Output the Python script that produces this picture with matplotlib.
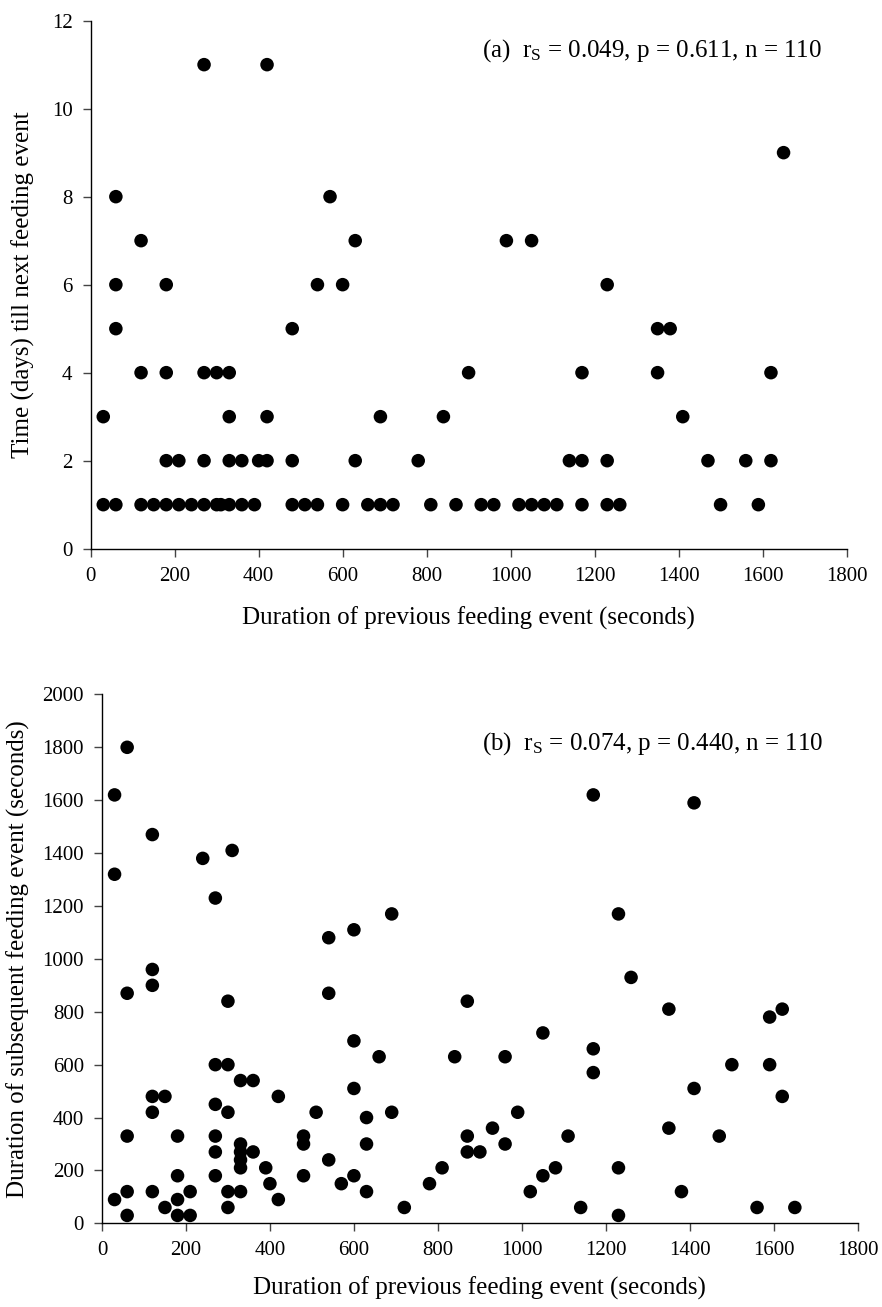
import numpy as np
import matplotlib
matplotlib.use('Agg')
from matplotlib import pyplot as plt

# panel (a): duration of previous event (s) vs days till next event
a_x = [270, 420, 1650,
       60, 570,
       120, 630, 990, 1050,
       60, 180, 540, 600, 1230,
       60, 480, 1350, 1380,
       120, 180, 270, 300, 330, 900, 1170, 1350, 1620,
       30, 330, 420, 690, 840, 1410,
       180, 210, 270, 330, 360, 400, 420, 480, 630, 780, 1140, 1170, 1230, 1470, 1560, 1620,
       30, 60, 120, 150, 180, 210, 240, 270, 300, 310, 330, 360, 390, 480, 510, 540, 600,
       660, 690, 720, 810, 870, 930, 960, 1020, 1050, 1080, 1110, 1170, 1230, 1260, 1500, 1590]
a_y = [11, 11, 9,
       8, 8,
       7, 7, 7, 7,
       6, 6, 6, 6, 6,
       5, 5, 5, 5,
       4, 4, 4, 4, 4, 4, 4, 4, 4,
       3, 3, 3, 3, 3, 3,
       2, 2, 2, 2, 2, 2, 2, 2, 2, 2, 2, 2, 2, 2, 2, 2,
       1, 1, 1, 1, 1, 1, 1, 1, 1, 1, 1, 1, 1, 1, 1, 1, 1,
       1, 1, 1, 1, 1, 1, 1, 1, 1, 1, 1, 1, 1, 1, 1, 1]

# panel (b): duration of previous event vs duration of subsequent event
b_x = [60, 30, 120, 310, 240, 30, 270, 540, 120, 120, 60, 300, 540, 270, 300, 330, 360,
       120, 150, 420, 270, 120, 300, 510, 60, 180, 270, 330, 480, 480, 270, 330, 360,
       330, 540, 330, 390, 180, 270, 480, 400, 570, 60, 120, 210, 300, 330, 30, 180, 420,
       150, 300, 60, 180, 210,
       1170, 690, 600, 870, 1050, 600, 660, 840, 960, 1170, 1170, 600, 630, 690, 990, 930,
       870, 1110, 630, 960, 870, 900, 810, 1080, 600, 780, 1050, 630, 1020, 720, 1140,
       1410, 1230, 1260, 1350, 1620, 1590, 1500, 1590, 1410, 1620, 1350, 1470, 1230, 1380,
       1560, 1650, 1230]
b_y = [1800, 1620, 1470, 1410, 1380, 1320, 1230, 1080, 960, 900, 870, 840, 870, 600, 600, 540, 540,
       480, 480, 480, 450, 420, 420, 420, 330, 330, 330, 300, 330, 300, 270, 270, 270,
       240, 240, 210, 210, 180, 180, 180, 150, 150, 120, 120, 120, 120, 120, 90, 90, 90,
       60, 60, 30, 30, 30,
       1620, 1170, 1110, 840, 720, 690, 630, 630, 630, 660, 570, 510, 400, 420, 420, 360,
       330, 330, 300, 300, 270, 270, 210, 210, 180, 150, 180, 120, 120, 60, 60,
       1590, 1170, 930, 810, 810, 780, 600, 600, 510, 480, 360, 330, 210, 120,
       60, 60, 30]

a_text = '(a)  r$_\\mathrm{S}$ = 0.049, p = 0.611, n = 110'
b_text = '(b)  r$_\\mathrm{S}$ = 0.074, p = 0.440, n = 110'
x_label = 'Duration of previous feeding event (seconds)'
a_ylabel = 'Time (days) till next feeding event'
b_ylabel = 'Duration of subsequent feeding event (seconds)'

plt.rcParams['font.family'] = ['Liberation Serif', 'DejaVu Serif']
plt.rcParams['mathtext.fontset'] = 'custom'
plt.rcParams['mathtext.rm'] = 'Liberation Serif'
plt.rcParams['mathtext.it'] = 'Liberation Serif:italic'


def style(ax, xpad):
    for s in ('top', 'right'):
        ax.spines[s].set_visible(False)
    for s in ('left', 'bottom'):
        ax.spines[s].set_linewidth(1.0)
    ax.tick_params(direction='out', length=5.5, width=1.0, color='#444444',
                   labelsize=15, pad=7.5)
    ax.set_xlim(0, 1800)
    ax.set_xticks(np.arange(0, 1801, 200))
    ax.set_xlabel(x_label, fontsize=18, labelpad=xpad)


fig = plt.figure(figsize=(8.82, 13.07), dpi=100)

ax1 = fig.add_axes([0.1028, 0.5802, 0.857, 0.404])
ax1.scatter(a_x, a_y, s=95, color='black', edgecolors='none', clip_on=False, zorder=3)
style(ax1, 15)
ax1.set_ylim(0, 12)
ax1.set_yticks(np.arange(0, 13, 2))
ax1.set_ylabel(a_ylabel, fontsize=18, labelpad=12)
ax1.text(0.967, 0.932, a_text, transform=ax1.transAxes, ha='right', va='baseline', fontsize=18)

ax2 = fig.add_axes([0.1156, 0.064, 0.857, 0.4047])
ax2.scatter(b_x, b_y, s=95, color='black', edgecolors='none', clip_on=False, zorder=3)
style(ax2, 12)
ax2.set_ylim(0, 2000)
ax2.set_yticks(np.arange(0, 2001, 200))
ax2.set_ylabel(b_ylabel, fontsize=18, labelpad=8.5)
ax2.text(0.954, 0.895, b_text, transform=ax2.transAxes, ha='right', va='baseline', fontsize=18)

fig.savefig('out.png', dpi=100)
